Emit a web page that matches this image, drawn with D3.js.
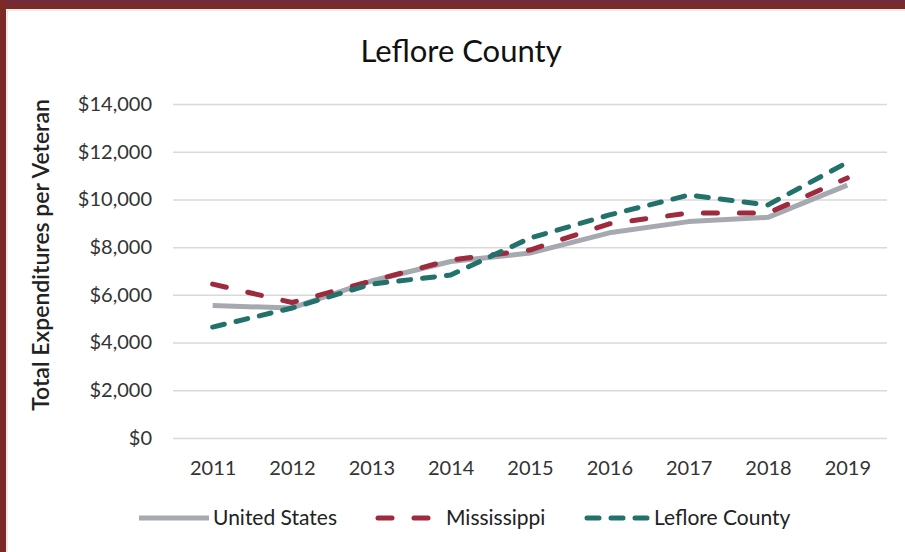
<!DOCTYPE html>
<html>
<head>
<meta charset="utf-8">
<script src="https://cdn.jsdelivr.net/npm/d3@7"></script>
<style>
  body { margin: 0; background: #fff; }
  svg { display: block; font-family: Lato, "Open Sans", sans-serif; }
</style>
</head>
<body>
<script>
var width = 905, height = 552;

// data
var years = ["2011", "2012", "2013", "2014", "2015", "2016", "2017", "2018", "2019"];
var unitedStates = [5550, 5450, 6580, 7400, 7750, 8600, 9070, 9250, 10600];
var mississippi = [6450, 5680, 6580, 7460, 7880, 8980, 9430, 9430, 10900];
var leflore = [4650, 5450, 6450, 6830, 8380, 9350, 10180, 9770, 11550];
var yTicks = [0, 2000, 4000, 6000, 8000, 10000, 12000, 14000];

var series = [
  { name: "United States", values: unitedStates, color: "#a7a9b1", dash: null },
  { name: "Mississippi", values: mississippi, color: "#9e2a3e", dash: "14,22" },
  { name: "Leflore County", values: leflore, color: "#22716b", dash: "12,12" }
];

var svg = d3.select("body").append("svg")
    .attr("width", width)
    .attr("height", height);

// cadre bordeaux
svg.append("rect").attr("x", 0).attr("y", 0).attr("width", width).attr("height", 9).attr("fill", "#7b2a26");
svg.append("rect").attr("x", 0).attr("y", 0).attr("width", width).attr("height", 4).attr("fill", "#722a3e");
svg.append("rect").attr("x", 0).attr("y", 0).attr("width", 6).attr("height", height).attr("fill", "#7b2a26");
svg.append("line").attr("x1", 7).attr("x2", width).attr("y1", 10).attr("y2", 10).attr("stroke", "#d8d8d8");
svg.append("line").attr("x1", 7).attr("x2", 7).attr("y1", 10).attr("y2", height).attr("stroke", "#d8d8d8");

var x = d3.scalePoint().domain(years).range([173, 887]).padding(0.5);
var y = d3.scaleLinear().domain([0, 14000]).range([438, 104]);

// titre
svg.append("text")
    .attr("x", 461).attr("y", 62)
    .attr("text-anchor", "middle")
    .attr("font-size", 31)
    .attr("fill", "#111")
    .text("Leflore County");

// axe Y + grille
var yAxis = svg.append("g")
    .attr("transform", "translate(173,0)")
    .call(d3.axisLeft(y).tickValues(yTicks).tickSize(-714).tickPadding(21)
      .tickFormat(function(d) { return "$" + d3.format(",")(d); }));
yAxis.select(".domain").remove();
yAxis.selectAll(".tick line").attr("stroke", "#d9d9d9").attr("stroke-width", 1.5);
yAxis.selectAll(".tick text").attr("font-size", 20).attr("fill", "#333").attr("font-family", "Lato, sans-serif");

// axe X
var xAxis = svg.append("g")
    .attr("transform", "translate(0,438)")
    .call(d3.axisBottom(x).tickSize(0).tickPadding(23));
xAxis.select(".domain").remove();
xAxis.selectAll(".tick text").attr("font-size", 20).attr("fill", "#333").attr("font-family", "Lato, sans-serif");

// titre axe Y
svg.append("text")
    .attr("transform", "translate(49,255) rotate(-90)")
    .attr("text-anchor", "middle")
    .attr("font-size", 23)
    .attr("font-weight", 600)
    .attr("fill", "#222")
    .text("Total Expenditures per Veteran");

var line = d3.line()
    .x(function(d, i) { return x(years[i]); })
    .y(function(d) { return y(d); });

series.forEach(function(s) {
  svg.append("path")
      .datum(s.values)
      .attr("d", line)
      .attr("fill", "none")
      .attr("stroke", s.color)
      .attr("stroke-width", 5)
      .attr("stroke-linecap", s.dash ? "round" : "butt")
      .attr("stroke-linejoin", "round")
      .attr("stroke-dasharray", s.dash);
});

// légende
var legendPos = [
  { x1: 139, x2: 209 },
  { x1: 378, x2: 442 },
  { x1: 587, x2: 650 }
];
var lg = svg.append("g");
series.forEach(function(s, i) {
  var p = legendPos[i];
  lg.append("line")
      .attr("x1", p.x1).attr("x2", p.x2)
      .attr("y1", 518).attr("y2", 518)
      .attr("stroke", s.color)
      .attr("stroke-width", 5)
      .attr("stroke-linecap", s.dash ? "round" : "butt")
      .attr("stroke-dasharray", s.dash);
  lg.append("text")
      .attr("x", p.x2 + 4).attr("y", 525)
      .attr("font-size", 21)
      .attr("fill", "#222")
      .text(s.name);
});
</script>
</body>
</html>
